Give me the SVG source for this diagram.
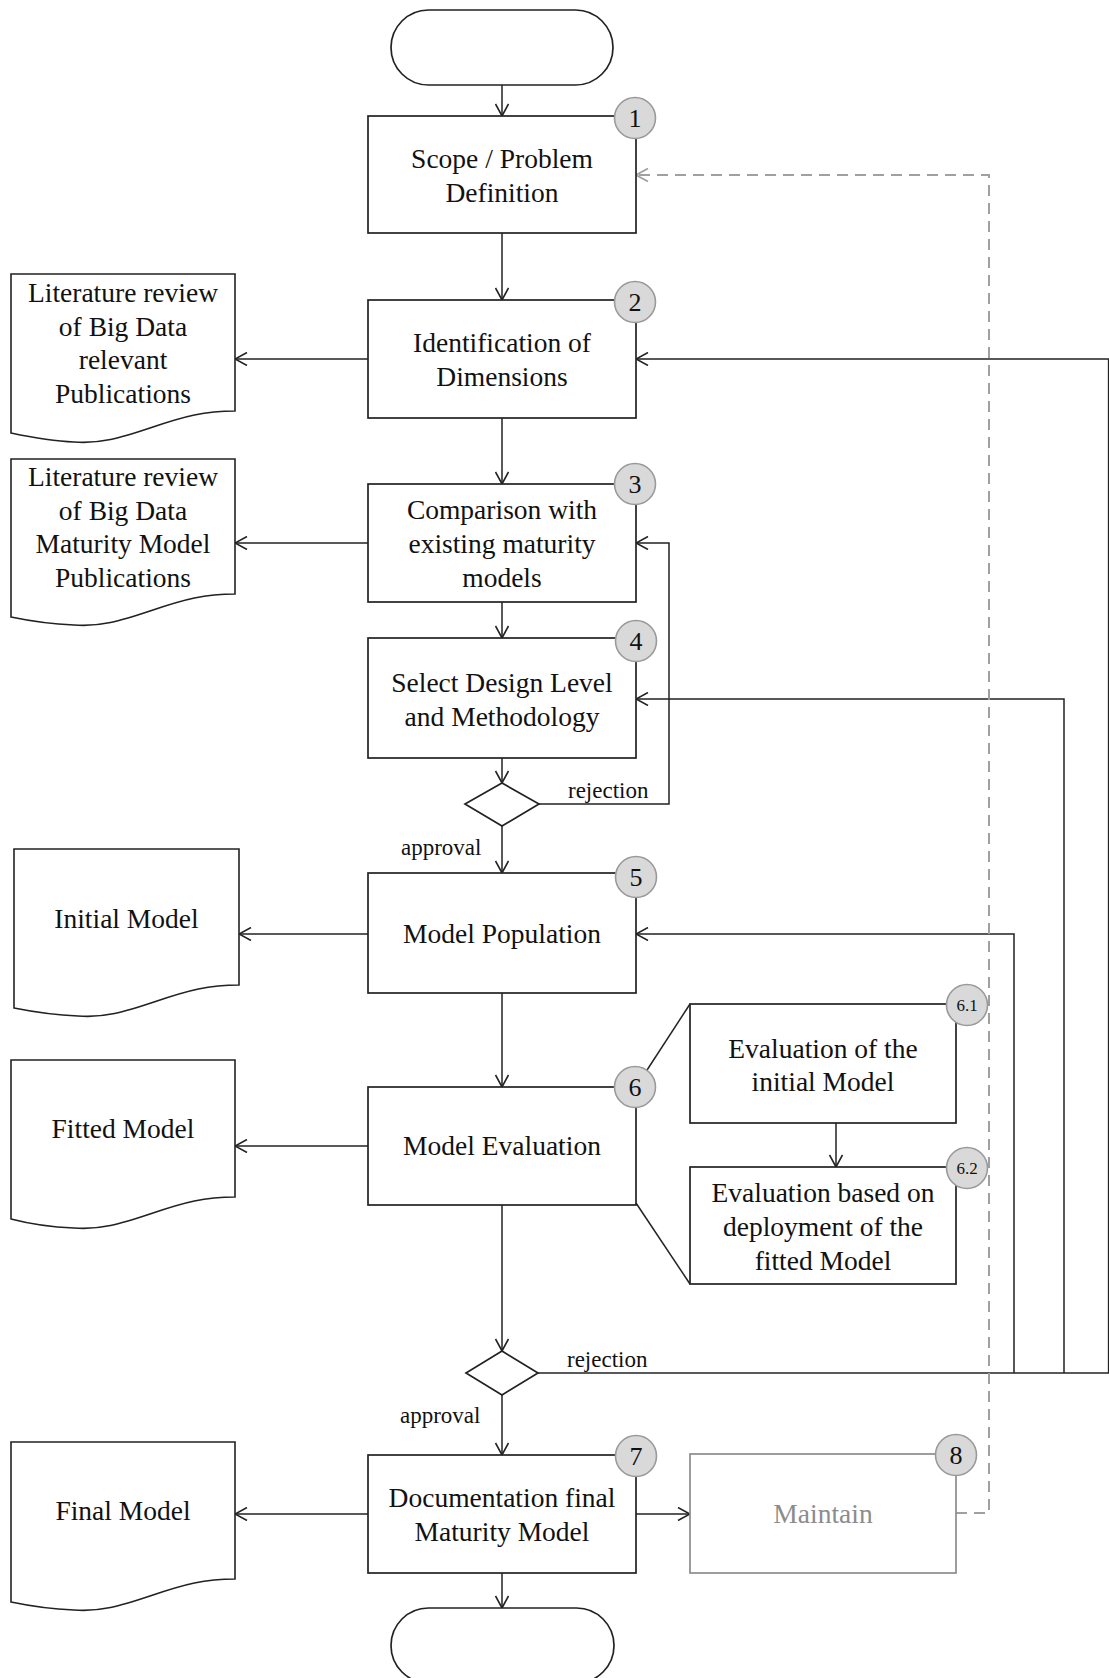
<svg xmlns="http://www.w3.org/2000/svg" width="1109" height="1678" viewBox="0 0 1109 1678">
  <style>
    .box { fill: #fff; stroke: #222; stroke-width: 1.7; }
    .box-muted { fill: #fff; stroke: #8c8c8c; stroke-width: 1.7; }
    .doc { fill: #fff; stroke: #222; stroke-width: 1.6; }
    .term { fill: #fff; stroke: #222; stroke-width: 1.7; }
    .badge { fill: #d9d9d9; stroke: #9a9a9a; stroke-width: 1.6; }
    .lbl { font-family: "Liberation Serif", "Times New Roman", serif; font-size: 27.5px; fill: #111; text-anchor: middle; }
    .lbl-muted { font-family: "Liberation Serif", "Times New Roman", serif; font-size: 27.5px; fill: #8c8c8c; text-anchor: middle; }
    .num { font-family: "Liberation Serif", "Times New Roman", serif; font-size: 26px; fill: #111; text-anchor: middle; }
    .num-sm { font-family: "Liberation Serif", "Times New Roman", serif; font-size: 17px; fill: #111; text-anchor: middle; }
    .edge-lbl { font-family: "Liberation Serif", "Times New Roman", serif; font-size: 23px; fill: #111; }
    .flow { fill: none; stroke: #222; stroke-width: 1.5; }
    .arrow { fill: none; stroke: #222; stroke-width: 1.5; marker-end: url(#head); }
    .feedback { fill: none; stroke: #a0a0a0; stroke-width: 2; stroke-dasharray: 11 7; marker-end: url(#head-grey); }
  </style>
  <defs>
    <marker id="head" viewBox="0 0 14 14" refX="13" refY="7" markerWidth="14" markerHeight="14" markerUnits="userSpaceOnUse" orient="auto">
      <path d="M1,0.5 L13,7 L1,13.5" fill="none" stroke="#222" stroke-width="1.6"/>
    </marker>
    <marker id="head-grey" viewBox="0 0 14 14" refX="13" refY="7" markerWidth="14" markerHeight="14" markerUnits="userSpaceOnUse" orient="auto">
      <path d="M1,0.5 L13,7 L1,13.5" fill="none" stroke="#a0a0a0" stroke-width="1.8"/>
    </marker>
  </defs>

  <rect width="1109" height="1678" fill="#fff"/>

  <!-- connectors -->
  <g id="connectors">
    <line class="arrow" x1="502" y1="85" x2="502" y2="116"/>
    <line class="arrow" x1="502" y1="233" x2="502" y2="300"/>
    <line class="arrow" x1="368" y1="359" x2="235" y2="359"/>
    <line class="arrow" x1="502" y1="418" x2="502" y2="484"/>
    <line class="arrow" x1="368" y1="543" x2="235" y2="543"/>
    <line class="arrow" x1="502" y1="602" x2="502" y2="638"/>
    <line class="arrow" x1="502" y1="758" x2="502" y2="783"/>
    <polyline class="arrow" points="539,804 669,804 669,543 636,543"/>
    <line class="arrow" x1="502" y1="826" x2="502" y2="873"/>
    <line class="arrow" x1="368" y1="934" x2="239" y2="934"/>
    <line class="arrow" x1="502" y1="993" x2="502" y2="1087"/>
    <line class="arrow" x1="368" y1="1146" x2="235" y2="1146"/>
    <line class="flow" x1="636" y1="1087" x2="690" y2="1004"/>
    <line class="flow" x1="636" y1="1203" x2="690" y2="1284"/>
    <line class="arrow" x1="836" y1="1123" x2="836" y2="1167"/>
    <line class="arrow" x1="502" y1="1205" x2="502" y2="1351"/>
    <!-- rejection loop-backs from the second decision -->
    <line class="flow" x1="538" y1="1373" x2="1109" y2="1373"/>
    <polyline class="arrow" points="1014,1373 1014,934 636,934"/>
    <polyline class="arrow" points="1064,1373 1064,699 636,699"/>
    <polyline class="arrow" points="1108.6,1373 1108.6,359 636,359"/>
    <line class="arrow" x1="502" y1="1395" x2="502" y2="1455"/>
    <line class="arrow" x1="368" y1="1514" x2="235" y2="1514"/>
    <line class="arrow" x1="636" y1="1514" x2="690" y2="1514"/>
    <line class="arrow" x1="502" y1="1573" x2="502" y2="1608"/>
    <!-- maintenance feedback -->
    <polyline class="feedback" points="956,1513 989,1513 989,175 636,175"/>

    <text class="edge-lbl" x="568" y="798">rejection</text>
    <text class="edge-lbl" x="401" y="855">approval</text>
    <text class="edge-lbl" x="567" y="1367">rejection</text>
    <text class="edge-lbl" x="400" y="1423">approval</text>
  </g>

  <!-- start / end -->
  <g id="start">
    <rect class="term" x="391" y="10" width="222" height="75" rx="37.5"/>
  </g>
  <g id="end">
    <rect class="term" x="391" y="1608" width="223" height="75" rx="37.5"/>
  </g>

  <!-- decisions -->
  <g id="decision-design">
    <polygon class="box" points="502,783 539,804 502,826 465,804"/>
  </g>
  <g id="decision-evaluation">
    <polygon class="box" points="502,1351 538,1373 502,1395 466,1373"/>
  </g>

  <!-- process steps -->
  <g id="step-1">
    <rect class="box" x="368" y="116" width="268" height="117"/>
    <text class="lbl" x="502" y="168">Scope / Problem</text>
    <text class="lbl" x="502" y="202">Definition</text>
    <circle class="badge" cx="635" cy="118" r="20.5"/>
    <text class="num" x="635" y="127">1</text>
  </g>
  <g id="step-2">
    <rect class="box" x="368" y="300" width="268" height="118"/>
    <text class="lbl" x="502" y="352">Identification of</text>
    <text class="lbl" x="502" y="386">Dimensions</text>
    <circle class="badge" cx="635" cy="302" r="20.5"/>
    <text class="num" x="635" y="311">2</text>
  </g>
  <g id="step-3">
    <rect class="box" x="368" y="484" width="268" height="118"/>
    <text class="lbl" x="502" y="519">Comparison with</text>
    <text class="lbl" x="502" y="553">existing maturity</text>
    <text class="lbl" x="502" y="587">models</text>
    <circle class="badge" cx="635" cy="484" r="20.5"/>
    <text class="num" x="635" y="493">3</text>
  </g>
  <g id="step-4">
    <rect class="box" x="368" y="638" width="268" height="120"/>
    <text class="lbl" x="502" y="692">Select Design Level</text>
    <text class="lbl" x="502" y="726">and Methodology</text>
    <circle class="badge" cx="636" cy="641" r="20.5"/>
    <text class="num" x="636" y="650">4</text>
  </g>
  <g id="step-5">
    <rect class="box" x="368" y="873" width="268" height="120"/>
    <text class="lbl" x="502" y="943">Model Population</text>
    <circle class="badge" cx="636" cy="877" r="20.5"/>
    <text class="num" x="636" y="886">5</text>
  </g>
  <g id="step-6">
    <rect class="box" x="368" y="1087" width="268" height="118"/>
    <text class="lbl" x="502" y="1155">Model Evaluation</text>
    <circle class="badge" cx="635" cy="1087" r="20.5"/>
    <text class="num" x="635" y="1096">6</text>
  </g>
  <g id="step-6-1">
    <rect class="box" x="690" y="1004" width="266" height="119"/>
    <text class="lbl" x="823" y="1058">Evaluation of the</text>
    <text class="lbl" x="823" y="1091">initial Model</text>
    <circle class="badge" cx="967" cy="1005" r="20.5"/>
    <text class="num-sm" x="967" y="1011">6.1</text>
  </g>
  <g id="step-6-2">
    <rect class="box" x="690" y="1167" width="266" height="117"/>
    <text class="lbl" x="823" y="1202">Evaluation based on</text>
    <text class="lbl" x="823" y="1236">deployment of the</text>
    <text class="lbl" x="823" y="1270">fitted Model</text>
    <circle class="badge" cx="967" cy="1168" r="20.5"/>
    <text class="num-sm" x="967" y="1174">6.2</text>
  </g>
  <g id="step-7">
    <rect class="box" x="368" y="1455" width="268" height="118"/>
    <text class="lbl" x="502" y="1507">Documentation final</text>
    <text class="lbl" x="502" y="1541">Maturity Model</text>
    <circle class="badge" cx="636" cy="1456" r="20.5"/>
    <text class="num" x="636" y="1465">7</text>
  </g>
  <g id="step-8">
    <rect class="box-muted" x="690" y="1454" width="266" height="119"/>
    <text class="lbl-muted" x="823" y="1523">Maintain</text>
    <circle class="badge" cx="956" cy="1455" r="20.5"/>
    <text class="num" x="956" y="1464">8</text>
  </g>

  <!-- documents -->
  <g id="doc-relevant-publications">
    <path class="doc" d="M11,274 H235 V411 C205,411 185,416 150,428 C120,438 100,444 74,442 C50,441 30,437 11,433 Z"/>
    <text class="lbl" x="123" y="302">Literature review</text>
    <text class="lbl" x="123" y="336">of Big Data</text>
    <text class="lbl" x="123" y="369">relevant</text>
    <text class="lbl" x="123" y="403">Publications</text>
  </g>
  <g id="doc-maturity-publications">
    <path class="doc" d="M11,459 H235 V594 C205,594 185,599 150,611 C120,621 100,627 74,625 C50,624 30,621 11,617 Z"/>
    <text class="lbl" x="123" y="486">Literature review</text>
    <text class="lbl" x="123" y="520">of Big Data</text>
    <text class="lbl" x="123" y="553">Maturity Model</text>
    <text class="lbl" x="123" y="587">Publications</text>
  </g>
  <g id="doc-initial-model">
    <path class="doc" d="M14,849 H239 V985 C209,985 189,990 154,1002 C124,1012 104,1018 78,1016 C54,1015 34,1012 14,1008 Z"/>
    <text class="lbl" x="126.5" y="928">Initial Model</text>
  </g>
  <g id="doc-fitted-model">
    <path class="doc" d="M11,1060 H235 V1197 C205,1197 185,1202 150,1214 C120,1224 100,1230 74,1228 C50,1227 30,1224 11,1219 Z"/>
    <text class="lbl" x="123" y="1138">Fitted Model</text>
  </g>
  <g id="doc-final-model">
    <path class="doc" d="M11,1442 H235 V1579 C205,1579 185,1584 150,1596 C120,1606 100,1612 74,1610 C50,1609 30,1606 11,1602 Z"/>
    <text class="lbl" x="123" y="1520">Final Model</text>
  </g>
</svg>
